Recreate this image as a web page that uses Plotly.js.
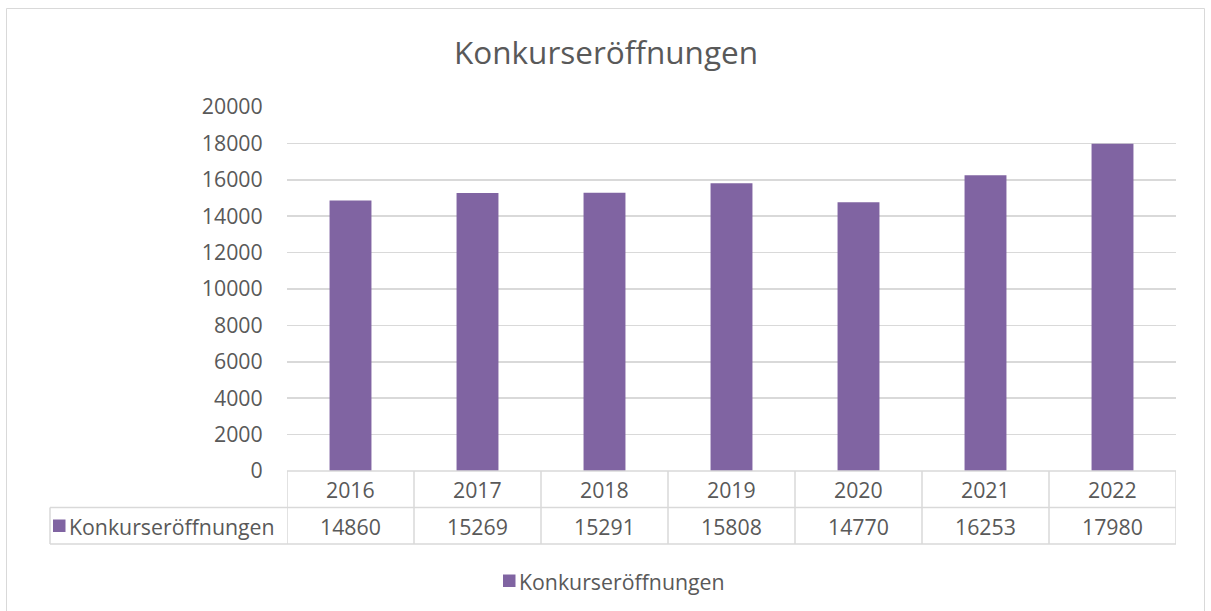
<!DOCTYPE html>
<html>
<head>
<meta charset="utf-8">
<script src="https://cdn.plot.ly/plotly-3.0.1.min.js"></script>
<style>html,body{margin:0;padding:0;background:#fff;}#chart{width:1211px;height:611px;}</style>
</head>
<body>
<div id="chart"></div>
<script>
const chartTitle = "Konkurseröffnungen";
const seriesName = "Konkurseröffnungen";
const years = ["2016", "2017", "2018", "2019", "2020", "2021", "2022"];
const values = [14860, 15269, 15291, 15808, 14770, 16253, 17980];
const yTicks = [0, 2000, 4000, 6000, 8000, 10000, 12000, 14000, 16000, 18000, 20000];

const W = 1211, H = 611;
const L = 287, R = 1176, T = 107, B = 471;
const pw = R - L, ph = B - T;
const px = x => (x - L) / pw;
const py = y => (B - y) / ph;

const barColor = "#8064A2";
const textColor = "#595959";
const lineColor = "#D9D9D9";
const fontFam = "'Open Sans', 'Noto Sans', sans-serif";
const fs = 21.3;

const shapes = [];
const annotations = [];

// outer chart border
shapes.push({type: "rect", xref: "paper", yref: "paper",
  x0: px(6.5), x1: px(1204.5), y0: py(8.5), y1: py(640),
  line: {color: lineColor, width: 1}, fillcolor: "rgba(0,0,0,0)", layer: "below"});

// table horizontal lines
const rowTop = py(471), rowMid = py(507.5), rowBot = py(544);
shapes.push({type: "line", xref: "paper", yref: "paper", x0: 0, x1: 1, y0: rowTop, y1: rowTop, line: {color: lineColor, width: 1.5}});
shapes.push({type: "line", xref: "paper", yref: "paper", x0: px(50), x1: 1, y0: rowMid, y1: rowMid, line: {color: lineColor, width: 1.5}});
shapes.push({type: "line", xref: "paper", yref: "paper", x0: px(50), x1: 1, y0: rowBot, y1: rowBot, line: {color: lineColor, width: 1.5}});
// table vertical lines (category boundaries)
for (let i = 0; i <= years.length; i++) {
  shapes.push({type: "line", xref: "x", yref: "paper", x0: i - 0.5, x1: i - 0.5, y0: rowTop, y1: rowBot, line: {color: lineColor, width: 1.5}});
}
shapes.push({type: "line", xref: "paper", yref: "paper", x0: px(50), x1: px(50), y0: rowMid, y1: rowBot, line: {color: lineColor, width: 1.5}});

// table text
years.forEach((yr, i) => {
  annotations.push({xref: "x", yref: "paper", x: i, y: py(489), text: yr, showarrow: false,
    xanchor: "center", yanchor: "middle", font: {family: fontFam, size: fs, color: textColor}});
  annotations.push({xref: "x", yref: "paper", x: i, y: py(526), text: String(values[i]), showarrow: false,
    xanchor: "center", yanchor: "middle", font: {family: fontFam, size: fs, color: textColor}});
});
// row label with key
shapes.push({type: "rect", xref: "paper", yref: "paper", x0: px(53), x1: px(65.5), y0: py(519.5), y1: py(532),
  fillcolor: barColor, line: {width: 0}});
annotations.push({xref: "paper", yref: "paper", x: px(67), y: py(526), text: seriesName, showarrow: false,
  xanchor: "left", yanchor: "middle", font: {family: fontFam, size: fs, color: textColor}});

// legend
shapes.push({type: "rect", xref: "paper", yref: "paper", x0: px(503), x1: px(515.5), y0: py(574.5), y1: py(587),
  fillcolor: barColor, line: {width: 0}});
annotations.push({xref: "paper", yref: "paper", x: px(517), y: py(581), text: seriesName, showarrow: false,
  xanchor: "left", yanchor: "middle", font: {family: fontFam, size: fs, color: textColor}});

const data = [{
  type: "bar",
  x: years.map((_, i) => i),
  y: values,
  name: seriesName,
  marker: {color: barColor},
  hoverinfo: "x+y"
}];

const layout = {
  width: W, height: H,
  margin: {l: L, r: W - R, t: T, b: H - B, pad: 0},
  paper_bgcolor: "#ffffff",
  plot_bgcolor: "#ffffff",
  showlegend: false,
  bargap: 0.67,
  title: {text: chartTitle, x: 606 / W, xref: "container", xanchor: "center", y: 1 - 53 / H, yref: "container", yanchor: "middle",
    font: {family: fontFam, size: 31.5, color: textColor}},
  xaxis: {type: "linear", range: [-0.5, years.length - 0.5], showticklabels: false, showgrid: false,
    zeroline: false, showline: false, ticks: "", fixedrange: true},
  yaxis: {range: [0, 20000], tickvals: yTicks, ticktext: yTicks.map(String), showgrid: true,
    gridcolor: lineColor, gridwidth: 1.5, zeroline: false, showline: false,
    ticks: "outside", ticklen: 19, tickcolor: "rgba(0,0,0,0)",
    tickfont: {family: fontFam, size: fs, color: textColor}, fixedrange: true},
  shapes: shapes,
  annotations: annotations
};

Plotly.newPlot("chart", data, layout, {displayModeBar: false, staticPlot: true});
</script>
</body>
</html>
